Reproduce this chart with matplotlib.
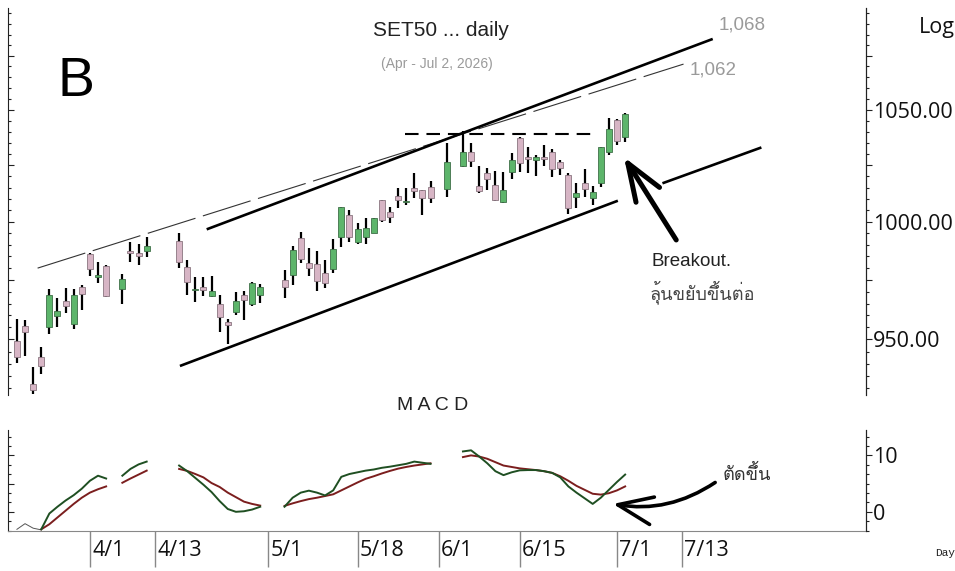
import matplotlib
matplotlib.use("Agg")
import matplotlib.pyplot as plt
import numpy as np
from matplotlib import font_manager
from matplotlib.ticker import FixedLocator, MultipleLocator, NullFormatter, FuncFormatter
from matplotlib.transforms import blended_transform_factory

# ---------------- data ----------------
# x positions are weekday slots (0 = 4/1); holidays are empty slots
idx = [-9, -8, -7, -6, -5, -4, -3, -2, -1, 0, 1, 2, 4, 5, 6, 7,
       11, 12, 13, 14, 15, 16, 17, 18, 19, 20, 21,
       24, 25, 26, 27, 28, 29, 30, 31, 32, 33, 34, 35, 36, 37, 38, 39, 40, 41, 42,
       44, 46, 47, 48, 49, 50, 51, 52, 53, 54, 55, 56, 57, 58, 59, 60, 61, 62, 63, 64, 65, 66]
opens = [949.5, 955.6, 931.7, 942.7, 955.3, 959.8, 966.2, 956.4, 972.1, 986.1, 976.2, 981.0, 971.0, 987.3, 986.6, 987.3,
         991.8, 980.6, 970.5, 971.9, 968.0, 964.6, 957.4, 961.6, 968.7, 964.9, 968.7,
         974.9, 977.0, 993.1, 982.1, 981.8, 977.8, 979.5, 993.5, 1002.9, 991.4, 993.5, 995.0, 1009.5, 1004.4, 1011.3, 1008.5, 1014.7, 1013.9, 1015.1,
         1014.2, 1024.7, 1030.8, 1015.6, 1021.3, 1016.3, 1008.8, 1022.0, 1037.0, 1028.8, 1027.3, 1028.8, 1031.0, 1026.2, 1020.5, 1010.7, 1016.9, 1010.6, 1016.9, 1030.9, 1045.3, 1037.8]
highs = [958.4, 958.1, 938.6, 946.8, 971.0, 967.2, 971.5, 971.0, 972.8, 986.4, 982.5, 981.5, 977.4, 991.1, 990.2, 993.2,
         995.0, 983.5, 976.4, 976.4, 976.8, 968.7, 958.4, 969.8, 970.3, 974.2, 973.1,
         979.2, 989.5, 995.7, 988.8, 987.3, 983.5, 992.5, 1006.3, 1005.1, 999.6, 1001.5, 1001.8, 1009.5, 1006.3, 1014.7, 1014.7, 1021.4, 1013.9, 1018.0,
         1034.8, 1040.2, 1034.8, 1024.7, 1023.8, 1022.4, 1021.7, 1030.2, 1037.5, 1033.3, 1029.7, 1033.9, 1032.4, 1027.3, 1021.4, 1016.9, 1023.1, 1015.6, 1033.3, 1046.3, 1045.9, 1048.4]
lows = [940.2, 943.2, 927.7, 935.8, 952.3, 955.1, 961.0, 954.4, 962.3, 976.6, 973.6, 967.7, 964.6, 982.8, 981.3, 984.9,
        979.9, 968.7, 965.8, 968.0, 967.7, 953.3, 948.0, 960.2, 958.1, 963.8, 965.2,
        967.2, 972.8, 982.1, 976.6, 970.4, 971.5, 977.8, 989.0, 991.4, 990.4, 990.4, 995.0, 1000.0, 999.6, 1005.9, 1007.3, 1010.3, 1002.9, 1008.4,
        1010.7, 1024.0, 1024.1, 1012.6, 1013.9, 1009.1, 1008.1, 1018.6, 1021.7, 1021.3, 1020.1, 1024.4, 1019.6, 1020.8, 1003.5, 1006.2, 1011.0, 1007.3, 1015.1, 1029.7, 1034.2, 1035.5]
closes = [942.9, 953.3, 929.5, 939.2, 968.4, 961.9, 964.0, 968.4, 969.1, 979.6, 976.9, 968.0, 975.4, 986.3, 985.3, 989.7,
          982.5, 974.2, 971.0, 970.8, 970.4, 959.3, 956.0, 966.2, 966.5, 973.6, 972.0,
          972.0, 987.8, 983.8, 979.9, 974.5, 973.8, 988.2, 1006.3, 993.5, 996.7, 997.2, 1001.5, 1000.7, 1001.9, 1009.5, 1009.1, 1013.6, 1010.3, 1010.3,
          1026.2, 1030.8, 1026.7, 1013.4, 1018.8, 1009.4, 1013.9, 1027.3, 1025.8, 1027.6, 1028.8, 1027.7, 1023.2, 1023.5, 1005.9, 1012.5, 1014.5, 1013.2, 1033.3, 1041.4, 1035.8, 1047.9]

# MACD (green) and signal (red), from slot -6 on
macd_idx = [-6, -5, -4, -3, -2, -1, 0, 1, 2, 4, 5, 6, 7,
            11, 12, 13, 14, 15, 16, 17, 18, 19, 20, 21,
            24, 25, 26, 27, 28, 29, 30, 31, 32, 33, 34, 35, 36, 37, 38, 39, 40, 41, 42,
            44, 46, 47, 48, 49, 50, 51, 52, 53, 54, 55, 56, 57, 58, 59, 60, 61, 62, 63, 64, 65, 66]
macd = [-3.1, -0.3, 0.9, 2.0, 2.95, 4.1, 5.5, 6.4, 5.9, 6.4, 7.6, 8.4, 8.9,
        8.2, 7.2, 6.0, 4.8, 3.5, 1.9, 0.5, 0.0, 0.1, 0.4, 0.9,
        0.9, 2.5, 3.4, 3.75, 3.4, 2.9, 3.8, 6.2, 6.7, 7.0, 7.3, 7.5, 7.8, 8.0, 8.25, 8.5, 8.9, 8.7, 8.5,
        9.4, 10.7, 10.9, 9.8, 8.6, 7.2, 6.5, 7.0, 7.35, 7.4, 7.4, 7.2, 6.9, 6.1, 4.5, 3.4, 2.4, 1.4, 2.5, 3.9, 5.3, 6.6]
signal = [-3.1, -2.2, -1.0, 0.2, 1.4, 2.5, 3.4, 4.0, 4.5, 5.15, 5.9, 6.6, 7.3,
          7.6, 7.25, 6.7, 6.1, 5.1, 4.4, 3.4, 2.6, 1.8, 1.4, 1.1,
          1.05, 1.5, 1.9, 2.25, 2.5, 2.8, 3.1, 3.8, 4.5, 5.2, 5.85, 6.3, 6.8, 7.25, 7.65, 7.95, 8.2, 8.4, 8.6,
          9.1, 9.7, 10.0, 9.8, 9.4, 8.8, 8.2, 7.95, 7.7, 7.55, 7.4, 7.2, 6.9, 6.3, 5.5, 4.6, 3.9, 3.2, 3.05, 3.3, 3.8, 4.5]
early_idx = [-9, -8, -7, -6]
early_vals = [-3.1, -2.1, -2.9, -3.2]

# trend lines (slot, price)
thin_x, thin_y = [-6.45, 73.2], [980.0, 1071.1]
upper_x, upper_y = [14.4, 76.8], [996.7, 1082.9]
lower_x, lower_y = [11.1, 65.1], [939.1, 1009.2]
lowext_x, lowext_y = [70.6, 82.8], [1016.9, 1032.9]
resist_x, resist_y = [38.8, 61.9], [1039.1, 1039.1]

tick_slots = [0, 8, 22, 33, 43, 53, 65, 73]
tick_labels = ["4/1", "4/13", "5/1", "5/18", "6/1", "6/15", "7/1", "7/13"]

# ---------------- fonts ----------------
def find_thai_font():
    from matplotlib.ft2font import FT2Font
    for f in font_manager.fontManager.ttflist:
        try:
            ft = FT2Font(f.fname)
            if ft.get_char_index(ord("ต")) and ft.get_char_index(ord("ข")):
                return f.name
        except Exception:
            pass
    return None

thai = find_thai_font()
thai_family = [thai, "DejaVu Sans"] if thai else ["DejaVu Sans"]

SANS = "Liberation Sans"
TICKF = "Open Sans"

W, H = 955, 571
fig = plt.figure(figsize=(W / 100, H / 100), dpi=100)

def fx(px):
    return px / W

def fy(py):
    return 1 - py / H

ax = fig.add_axes([fx(8), fy(395), fx(866) - fx(8), fy(8) - fy(395)])
axm = fig.add_axes([fx(8), fy(531), fx(866) - fx(8), fy(430) - fy(531)], sharex=ax)

xmin, xmax = -10.1, 95.7
ax.set_xlim(xmin, xmax)
ax.set_yscale("log")
ax.set_ylim(927.3, 1097.6)

# ---------------- candles ----------------
green = "#5db56b"
pink = "#d7b5c5"
o = np.array(opens); c = np.array(closes); h = np.array(highs); l = np.array(lows)
x = np.array(idx, dtype=float)
up = c >= o
ax.vlines(x, l, h, color="black", lw=1.6, zorder=2)
ax.bar(x[up], (c - o)[up], bottom=o[up], width=0.74, color=green, edgecolor="#3f6f48", lw=0.6, zorder=3)
ax.bar(x[~up], (o - c)[~up], bottom=c[~up], width=0.74, color=pink, edgecolor="#8a7580", lw=0.6, zorder=3)

# trend lines
ax.plot(thin_x, thin_y, color="#333333", lw=0.8, linestyle=(0, (45, 7)), zorder=1)
ax.plot(upper_x, upper_y, color="black", lw=1.9, zorder=4, solid_capstyle="butt")
ax.plot(lower_x, lower_y, color="black", lw=1.9, zorder=4, solid_capstyle="butt")
ax.plot(lowext_x, lowext_y, color="black", lw=1.9, zorder=4, solid_capstyle="butt")
ax.plot(resist_x, resist_y, color="black", lw=1.5, linestyle=(0, (6.5, 3.8)), zorder=4)

# breakout arrow
ax.annotate("", xy=(65.85, 1028.6), xytext=(72.3, 992.1),
            arrowprops=dict(arrowstyle="->,head_length=1.35,head_width=0.5", lw=3.6,
                            color="black", mutation_scale=20, shrinkA=0, shrinkB=0))

# price axis styling
for s in ["top", "bottom"]:
    ax.spines[s].set_visible(False)
ax.spines["left"].set_color("#222222")
ax.spines["right"].set_color("#222222")
ax.tick_params(axis="x", which="both", bottom=False, labelbottom=False)
maj = list(range(925, 1101, 25))
mnr = [v for v in range(925, 1101, 5) if v % 25]
ax.yaxis.set_major_locator(FixedLocator(maj))
ax.yaxis.set_minor_locator(FixedLocator(mnr))
ax.yaxis.set_major_formatter(NullFormatter())
ax.yaxis.set_minor_formatter(NullFormatter())
ax.tick_params(axis="y", which="major", left=True, right=False, direction="in", length=4, width=0.8, color="#222222")
ax.tick_params(axis="y", which="minor", left=True, right=False, direction="in", length=2.5, width=0.8, color="#222222")

axr = ax.twinx()
axr.set_yscale("log")
axr.set_ylim(ax.get_ylim())
for s in ["top", "bottom", "left"]:
    axr.spines[s].set_visible(False)
axr.spines["right"].set_color("#222222")
axr.yaxis.set_major_locator(FixedLocator(maj))
axr.yaxis.set_minor_locator(FixedLocator(mnr))
axr.yaxis.set_major_formatter(FuncFormatter(lambda v, p: f"{v:.2f}" if v % 50 == 0 else ""))
axr.yaxis.set_minor_formatter(NullFormatter())
axr.tick_params(axis="y", which="major", right=True, direction="out", length=4, width=0.8, color="#222222",
                labelsize=15.5, pad=1, labelcolor="#111111")
axr.tick_params(axis="y", which="minor", right=True, direction="out", length=2.5, width=0.8, color="#222222")
for t in axr.get_yticklabels():
    t.set_fontfamily(TICKF)
axr.tick_params(axis="x", bottom=False, labelbottom=False)

# ---------------- MACD ----------------
def with_gaps(ix, vals):
    xs, ys = [], []
    prev = None
    for a, b in zip(ix, vals):
        if prev is not None and a - prev > 1:
            xs.append(np.nan); ys.append(np.nan)
        xs.append(a); ys.append(b)
        prev = a
    return xs, ys

mx, my = with_gaps(macd_idx, macd)
sx, sy = with_gaps(macd_idx, signal)
axm.plot(early_idx, early_vals, color="#555555", lw=0.7)
axm.plot(sx, sy, color="#7b1e1e", lw=1.4)
axm.plot(mx, my, color="#1f4f22", lw=1.4)
axm.set_ylim(-3.4, 14.5)
axm.spines["top"].set_visible(False)
axm.spines["bottom"].set_color("#888888")
axm.spines["left"].set_color("#222222")
axm.spines["right"].set_color("#222222")
axm.yaxis.set_major_locator(FixedLocator([0, 5, 10]))
axm.yaxis.set_minor_locator(MultipleLocator(10 / 6))
axm.yaxis.set_major_formatter(NullFormatter())
axm.tick_params(axis="y", which="major", left=True, right=False, direction="in", length=4, width=0.8, color="#222222")
axm.tick_params(axis="y", which="minor", left=True, right=False, direction="in", length=2.5, width=0.8, color="#222222")
axmr = axm.twinx()
axmr.set_ylim(axm.get_ylim())
for s in ["top", "bottom", "left"]:
    axmr.spines[s].set_visible(False)
axmr.spines["right"].set_color("#222222")
axmr.yaxis.set_major_locator(FixedLocator([0, 10]))
axmr.yaxis.set_minor_locator(MultipleLocator(10 / 6))
axmr.yaxis.set_major_formatter(FuncFormatter(lambda v, p: f"{v:.0f}"))
axmr.tick_params(axis="y", which="major", right=True, direction="out", length=4, width=0.8, color="#222222",
                 labelsize=15.5, pad=1, labelcolor="#111111")
axmr.tick_params(axis="y", which="minor", right=True, direction="out", length=2.5, width=0.8, color="#222222")
for t in axmr.get_yticklabels():
    t.set_fontfamily(TICKF)

axm.xaxis.set_major_locator(FixedLocator(tick_slots))
axm.xaxis.set_minor_locator(FixedLocator([]))
axm.tick_params(axis="x", which="major", direction="out", length=26, width=1.0, color="#888888",
                labelbottom=False)
tr = blended_transform_factory(axm.transData, fig.transFigure)
for s, lab in zip(tick_slots, tick_labels):
    axm.text(s + 0.3, fy(551), lab, transform=tr, ha="left", va="center", fontsize=15.5,
             family=TICKF, color="#111111")

# MACD arrow
axm.annotate("", xy=(64.5, 1.4), xytext=(77.1, 5.2),
             arrowprops=dict(arrowstyle="->,head_length=1.25,head_width=0.5", lw=2.6, color="black",
                             mutation_scale=20, shrinkA=0, shrinkB=0,
                             connectionstyle="arc3,rad=-0.2"))

# ---------------- texts ----------------
fig.text(fx(441), fy(31), "SET50 ... daily", ha="center", va="center", fontsize=15, family=SANS, color="#222222")
fig.text(fx(437), fy(64), "(Apr - Jul 2, 2026)", ha="center", va="center", fontsize=10, family=SANS, color="#9a9a9a")
fig.text(fx(76), fy(82), "B", ha="center", va="center", fontsize=40, family=SANS, color="black")
fig.text(fx(742), fy(25), "1,068", ha="center", va="center", fontsize=13.5, family=SANS, color="#9a9a9a")
fig.text(fx(713), fy(70), "1,062", ha="center", va="center", fontsize=13.5, family=SANS, color="#9a9a9a")
fig.text(fx(937), fy(27), "Log", ha="center", va="center", fontsize=15.5, family=TICKF, color="#111111")
fig.text(fx(433), fy(405), "M A C D", ha="center", va="center", fontsize=14, family=SANS, color="#222222")
fig.text(fx(651), fy(262), "Breakout.", ha="left", va="center", fontsize=13.5, family=SANS, color="#222222")
fig.text(fx(650), fy(292), "ลุ้นขยับขึ้นต่อ", ha="left", va="center", fontsize=13, family=thai_family, color="#444444")
fig.text(fx(723), fy(474), "ตัดขึ้น", ha="left", va="center", fontsize=13, family=thai_family, color="#333333")
fig.text(fx(945), fy(553), "Day", ha="center", va="center", fontsize=8, family="Liberation Mono", color="#222222")

fig.savefig("out.png", dpi=100)
